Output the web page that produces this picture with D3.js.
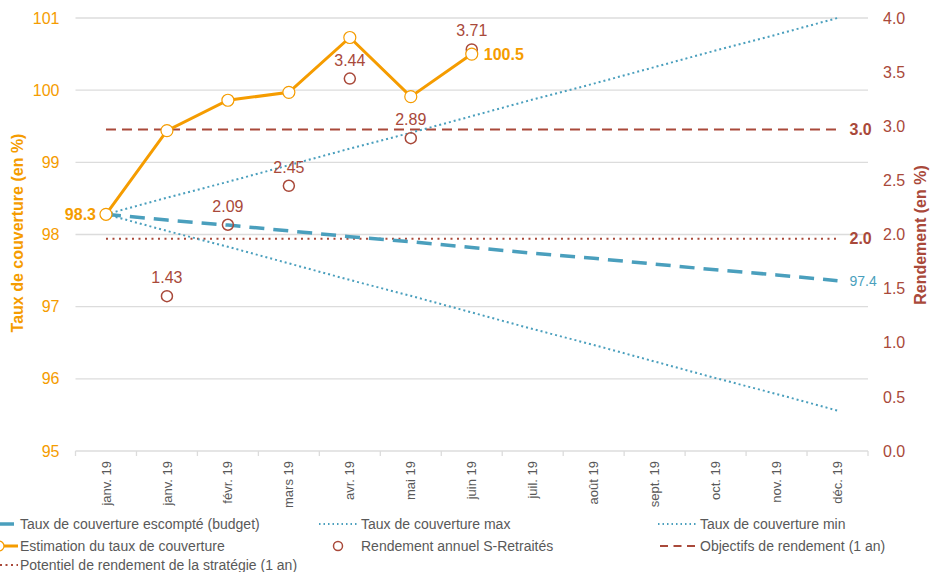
<!DOCTYPE html>
<html>
<head>
<meta charset="utf-8">
<script src="https://cdn.jsdelivr.net/npm/d3@7"></script>
<style>
  body { margin: 0; background: #fff; }
  svg { font-family: "Liberation Sans", Arial, sans-serif; }
</style>
</head>
<body>
<div id="chart"></div>
<script>
const MONTHS = ["janv. 19","janv. 19","févr. 19","mars 19","avr. 19","mai 19","juin 19","juil. 19","août 19","sept. 19","oct. 19","nov. 19","déc. 19"];
const ESTIMATION = [98.28, 99.44, 99.86, 99.97, 100.73, 99.91, 100.5];
const RENDEMENT = [null, 1.43, 2.09, 2.45, 3.44, 2.89, 3.71];
const BUDGET = [98.28, 98.20, 98.13, 98.05, 97.97, 97.90, 97.82, 97.74, 97.67, 97.59, 97.51, 97.44, 97.36];
const MAX = [98.28, 98.51, 98.73, 98.96, 99.19, 99.41, 99.64, 99.87, 100.09, 100.32, 100.55, 100.77, 101.0];
const MIN = [98.28, 98.05, 97.83, 97.60, 97.37, 97.15, 96.92, 96.69, 96.47, 96.24, 96.01, 95.79, 95.56];
const OBJECTIF = 2.97;
const POTENTIEL = 1.96;
const LEFT_TICKS = [95, 96, 97, 98, 99, 100, 101];
const RIGHT_TICKS = [0, 0.5, 1, 1.5, 2, 2.5, 3, 3.5, 4];

const ORANGE = "#f59c00", RED = "#a9493a", BLUE = "#4a9fbd", GREY = "#595959", GRID = "#dcdcdc";

const W = 930, H = 572;
const margin = { top: 18, right: 62, bottom: 121, left: 75.5 };

const svg = d3.select("#chart").append("svg")
  .attr("width", W).attr("height", H);

const x = d3.scaleBand().domain(d3.range(MONTHS.length))
  .range([margin.left, W - margin.right]);
const cx = i => x(i) + x.bandwidth() / 2;

const yL = d3.scaleLinear().domain([95, 101]).range([H - margin.bottom, margin.top]);
const yR = d3.scaleLinear().domain([0, 4]).range([H - margin.bottom, margin.top]);

// gridlines
svg.append("g").selectAll("line").data(LEFT_TICKS).enter().append("line")
  .attr("x1", margin.left).attr("x2", W - margin.right)
  .attr("y1", d => yL(d)).attr("y2", d => yL(d))
  .attr("stroke", GRID).attr("stroke-width", 1.3);

// x ticks at band edges
const edges = d3.range(MONTHS.length).map(i => x(i)).concat([W - margin.right]);
svg.append("g").selectAll("line").data(edges).enter().append("line")
  .attr("x1", d => d).attr("x2", d => d)
  .attr("y1", yL(95)).attr("y2", yL(95) + 5)
  .attr("stroke", GRID).attr("stroke-width", 1.3);

// x labels
const xAxis = svg.append("g")
  .attr("transform", "translate(0," + yL(95) + ")")
  .call(d3.axisBottom(x).tickSize(0).tickFormat(i => MONTHS[i]));
xAxis.select(".domain").remove();
xAxis.selectAll("text")
  .attr("transform", "rotate(-90)")
  .attr("x", -10).attr("y", 0).attr("dy", "0.35em")
  .style("text-anchor", "end")
  .style("font-size", "13px")
  .style("font-family", "Liberation Sans, Arial, sans-serif")
  .attr("fill", GREY);

// left axis
const lAxis = svg.append("g")
  .attr("transform", "translate(" + margin.left + ",0)")
  .call(d3.axisLeft(yL).tickValues(LEFT_TICKS).tickFormat(d3.format("d")).tickSize(0).tickPadding(16));
lAxis.select(".domain").remove();
lAxis.selectAll("text").attr("fill", ORANGE)
  .style("font-size", "16px").style("font-family", "Liberation Sans, Arial, sans-serif");

// right axis
const rAxis = svg.append("g")
  .attr("transform", "translate(" + (W - margin.right) + ",0)")
  .call(d3.axisRight(yR).tickValues(RIGHT_TICKS).tickFormat(d3.format(".1f")).tickSize(0).tickPadding(15));
rAxis.select(".domain").remove();
rAxis.selectAll("text").attr("fill", RED)
  .style("font-size", "16px").style("font-family", "Liberation Sans, Arial, sans-serif");

// axis titles
svg.append("text")
  .attr("transform", "translate(23," + 233 + ") rotate(-90)")
  .style("text-anchor", "middle").style("font-size", "16px").style("font-weight", "bold")
  .attr("fill", ORANGE).text("Taux de couverture (en %)");
svg.append("text")
  .attr("transform", "translate(926," + 235 + ") rotate(-90)")
  .style("text-anchor", "middle").style("font-size", "16px").style("font-weight", "bold")
  .attr("fill", RED).text("Rendement (en %)");

const line = d3.line().x((d, i) => cx(i)).y(d => yL(d));

// objectifs & potentiel (right scale)
const first = cx(0), last = cx(MONTHS.length - 1);
svg.append("line")
  .attr("x1", first).attr("x2", last).attr("y1", yR(OBJECTIF)).attr("y2", yR(OBJECTIF))
  .attr("stroke", RED).attr("stroke-width", 2).attr("stroke-dasharray", "10,6");
svg.append("line")
  .attr("x1", first).attr("x2", last).attr("y1", yR(POTENTIEL)).attr("y2", yR(POTENTIEL))
  .attr("stroke", RED).attr("stroke-width", 2).attr("stroke-dasharray", "2,4.5");
svg.append("text").attr("x", last + 12).attr("y", yR(OBJECTIF)).attr("dy", "0.35em")
  .style("font-size", "16px").style("font-weight", "bold").attr("fill", RED).text(d3.format(".1f")(OBJECTIF));
svg.append("text").attr("x", last + 12).attr("y", yR(POTENTIEL)).attr("dy", "0.35em")
  .style("font-size", "16px").style("font-weight", "bold").attr("fill", RED).text(d3.format(".1f")(POTENTIEL));

// max / min
svg.append("path").datum(MAX).attr("d", line)
  .attr("fill", "none").attr("stroke", BLUE).attr("stroke-width", 2).attr("stroke-dasharray", "2,3");
svg.append("path").datum(MIN).attr("d", line)
  .attr("fill", "none").attr("stroke", BLUE).attr("stroke-width", 2).attr("stroke-dasharray", "2,3");

// budget
svg.append("path").datum(BUDGET).attr("d", line)
  .attr("fill", "none").attr("stroke", BLUE).attr("stroke-width", 3.5).attr("stroke-dasharray", "15,9");
svg.append("text").attr("x", last + 12).attr("y", yL(BUDGET[BUDGET.length - 1])).attr("dy", "0.35em")
  .style("font-size", "14px").attr("fill", BLUE).text(d3.format(".1f")(BUDGET[BUDGET.length - 1]));

// rendement circles
const rend = RENDEMENT.map((d, i) => ({ v: d, i: i })).filter(d => d.v !== null);
svg.append("g").selectAll("circle").data(rend).enter().append("circle")
  .attr("cx", d => cx(d.i)).attr("cy", d => yR(d.v)).attr("r", 5.5)
  .attr("fill", "none").attr("stroke", RED).attr("stroke-width", 1.5);
svg.append("g").selectAll("text").data(rend).enter().append("text")
  .attr("x", d => cx(d.i)).attr("y", d => yR(d.v) - 13)
  .style("text-anchor", "middle").style("font-size", "16px").attr("fill", RED)
  .text(d => d3.format(".2f")(d.v));

// estimation
svg.append("path").datum(ESTIMATION).attr("d", line)
  .attr("fill", "none").attr("stroke", ORANGE).attr("stroke-width", 3);
svg.append("g").selectAll("circle").data(ESTIMATION).enter().append("circle")
  .attr("cx", (d, i) => cx(i)).attr("cy", d => yL(d)).attr("r", 6)
  .attr("fill", "#fff").attr("stroke", ORANGE).attr("stroke-width", 1.2);
svg.append("text").attr("x", cx(0) - 10).attr("y", yL(ESTIMATION[0])).attr("dy", "0.35em")
  .style("text-anchor", "end").style("font-size", "16px").style("font-weight", "bold")
  .attr("fill", ORANGE).text(d3.format(".1f")(ESTIMATION[0]));
const li = ESTIMATION.length - 1;
svg.append("text").attr("x", cx(li) + 12).attr("y", yL(ESTIMATION[li])).attr("dy", "0.35em")
  .style("font-size", "16px").style("font-weight", "bold")
  .attr("fill", ORANGE).text(d3.format(".1f")(ESTIMATION[li]));

// legend
const legend = [
  { label: "Taux de couverture escompté (budget)", col: 0, row: 0, type: "dash" },
  { label: "Taux de couverture max", col: 1, row: 0, type: "dotblue" },
  { label: "Taux de couverture min", col: 2, row: 0, type: "dotblue" },
  { label: "Estimation du taux de couverture", col: 0, row: 1, type: "orange" },
  { label: "Rendement annuel S-Retraités", col: 1, row: 1, type: "circle" },
  { label: "Objectifs de rendement (1 an)", col: 2, row: 1, type: "dashred" },
  { label: "Potentiel de rendement de la stratégie (1 an)", col: 0, row: 2, type: "dotred" }
];
const colX = [20, 361, 700];
const rowY = [524, 546, 565];

const lg = svg.append("g").selectAll("g").data(legend).enter().append("g")
  .attr("transform", d => "translate(" + colX[d.col] + "," + rowY[d.row] + ")");
lg.append("text").attr("x", 0).attr("dy", "0.35em")
  .style("font-size", "14px").attr("fill", GREY).text(d => d.label);
lg.each(function (d) {
  const g = d3.select(this);
  if (d.type === "dash") {
    g.append("line").attr("x1", -22).attr("x2", -6).attr("stroke", BLUE).attr("stroke-width", 3.5);
  } else if (d.type === "dotblue") {
    g.append("line").attr("x1", -42).attr("x2", -3).attr("stroke", BLUE).attr("stroke-width", 2).attr("stroke-dasharray", "1.5,3");
  } else if (d.type === "orange") {
    g.append("line").attr("x1", -40).attr("x2", -2).attr("stroke", ORANGE).attr("stroke-width", 3);
    g.append("circle").attr("cx", -21).attr("r", 5).attr("fill", "#fff").attr("stroke", ORANGE).attr("stroke-width", 1.2);
  } else if (d.type === "circle") {
    g.append("circle").attr("cx", -23).attr("r", 4.5).attr("fill", "none").attr("stroke", RED).attr("stroke-width", 1.5);
  } else if (d.type === "dashred") {
    g.append("line").attr("x1", -40).attr("x2", -2).attr("stroke", RED).attr("stroke-width", 2).attr("stroke-dasharray", "8,5.5");
  } else if (d.type === "dotred") {
    g.append("line").attr("x1", -20).attr("x2", -2).attr("stroke", RED).attr("stroke-width", 2).attr("stroke-dasharray", "2,3.5");
  }
});
</script>
</body>
</html>
